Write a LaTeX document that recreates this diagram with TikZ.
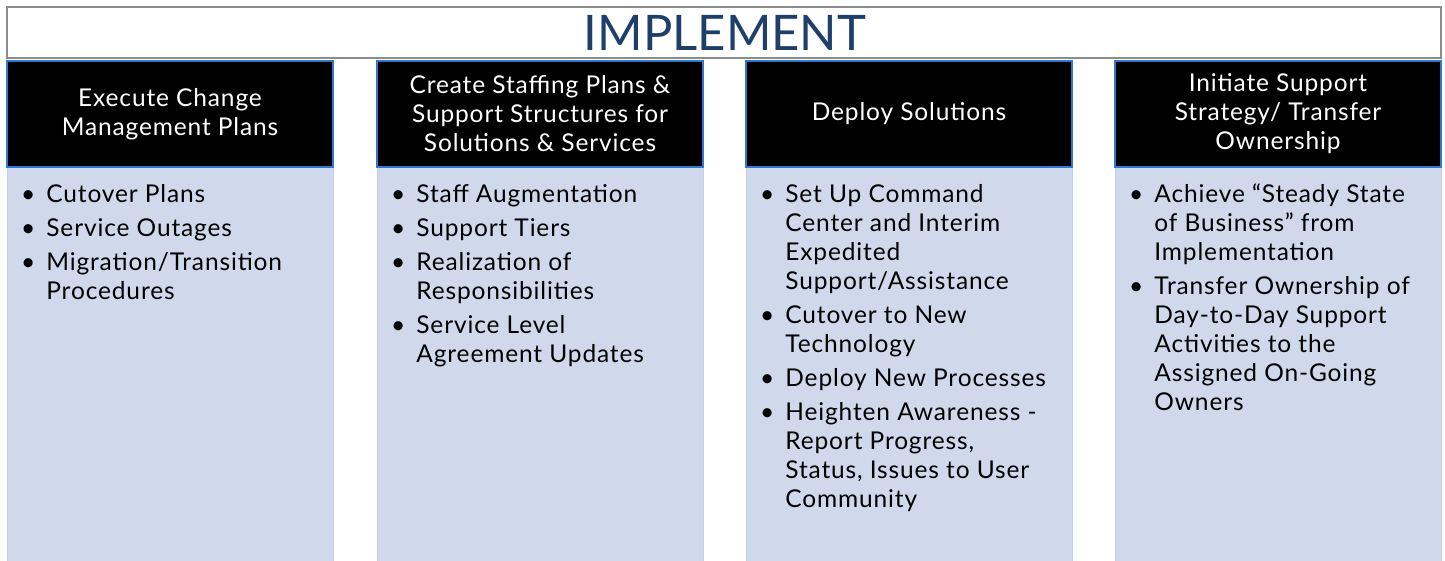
\documentclass[tikz,border=0pt]{standalone}
\usepackage{fontspec}
\setmainfont{Lato}
\newfontfamily\spacedfont[LetterSpace=3.5]{Lato}
\usepackage{array}
\definecolor{titlenavy}{HTML}{1F3F6B}
\definecolor{framegray}{HTML}{8C8C8C}
\definecolor{headblue}{HTML}{2F78CF}
\definecolor{bodyfill}{HTML}{D0D9EB}
\definecolor{bodyedge}{HTML}{C5CFE4}
\newcommand{\bodyfont}{\spacedfont\fontsize{24.5}{29}\selectfont}
\newcommand{\headfont}{\spacedfont\fontsize{24.5}{29}\selectfont}
\newcommand{\bul}{\textbullet}
\tikzset{
  titlebox/.style={draw=framegray, line width=1.6pt, fill=white},
  headbox/.style={draw=headblue, line width=1.8pt, fill=black},
  bodybox/.style={draw=bodyedge, line width=1pt, fill=bodyfill},
  headtext/.style={text=white, align=center, font=\headfont, inner sep=0pt},
  bodytext/.style={anchor=base west, inner sep=0pt, font=\bodyfont},
}
\newenvironment{bullets}{\begin{tabular}[t]{@{}l@{\hspace{11pt}}l@{}}}{\end{tabular}}
\begin{document}
\begin{tikzpicture}[x=1pt,y=-1pt]
\useasboundingbox (0,0) rectangle (1445,560);
% title bar
\draw[titlebox] (7,7) rectangle (1441,58);
\node[text=titlenavy, font=\fontsize{49}{49}\selectfont, inner sep=0pt, anchor=base] (title) at (725,50) {IMPLEMENT};

% column bodies and headers
\foreach \x/\n in {7/a,377/b,746/c,1115/d}{
  \draw[bodybox] (\x,167) rectangle (\x+326,561);
  \draw[headbox] (\x,61) rectangle (\x+326,167);
  \coordinate (h\n) at (\x+163,114);
  \coordinate (t\n) at (\x+14,202);
}

\node[headtext] (ha-text) at (ha) {Execute Change\\Management Plans};
\node[headtext] (hb-text) at (hb) {Create Staffing Plans \&\\Support Structures for\\Solutions \& Services};
\node[headtext] (hc-text) at (hc) {Deploy Solutions};
\node[headtext] (hd-text) at (hd) {Initiate Support\\Strategy/ Transfer\\Ownership};

\node[bodytext] (ba) at (ta) {\begin{bullets}
\bul & Cutover Plans\\[5pt]
\bul & Service Outages\\[5pt]
\bul & Migration/Transition\\
     & Procedures
\end{bullets}};

\node[bodytext] (bb) at (tb) {\begin{bullets}
\bul & Staff Augmentation\\[5pt]
\bul & Support Tiers\\[5pt]
\bul & Realization of\\
     & Responsibilities\\[5pt]
\bul & Service Level\\
     & Agreement Updates
\end{bullets}};

\node[bodytext] (bc) at (tc) {\begin{bullets}
\bul & Set Up Command\\
     & Center and Interim\\
     & Expedited\\
     & Support/Assistance\\[5pt]
\bul & Cutover to New\\
     & Technology\\[5pt]
\bul & Deploy New Processes\\[5pt]
\bul & Heighten Awareness -\\
     & Report Progress,\\
     & Status, Issues to User\\
     & Community
\end{bullets}};

\node[bodytext] (bd) at (td) {\begin{bullets}
\bul & Achieve “Steady State\\
     & of Business” from\\
     & Implementation\\[5pt]
\bul & Transfer Ownership of\\
     & Day-to-Day Support\\
     & Activities to the\\
     & Assigned On-Going\\
     & Owners
\end{bullets}};
\end{tikzpicture}
\end{document}
